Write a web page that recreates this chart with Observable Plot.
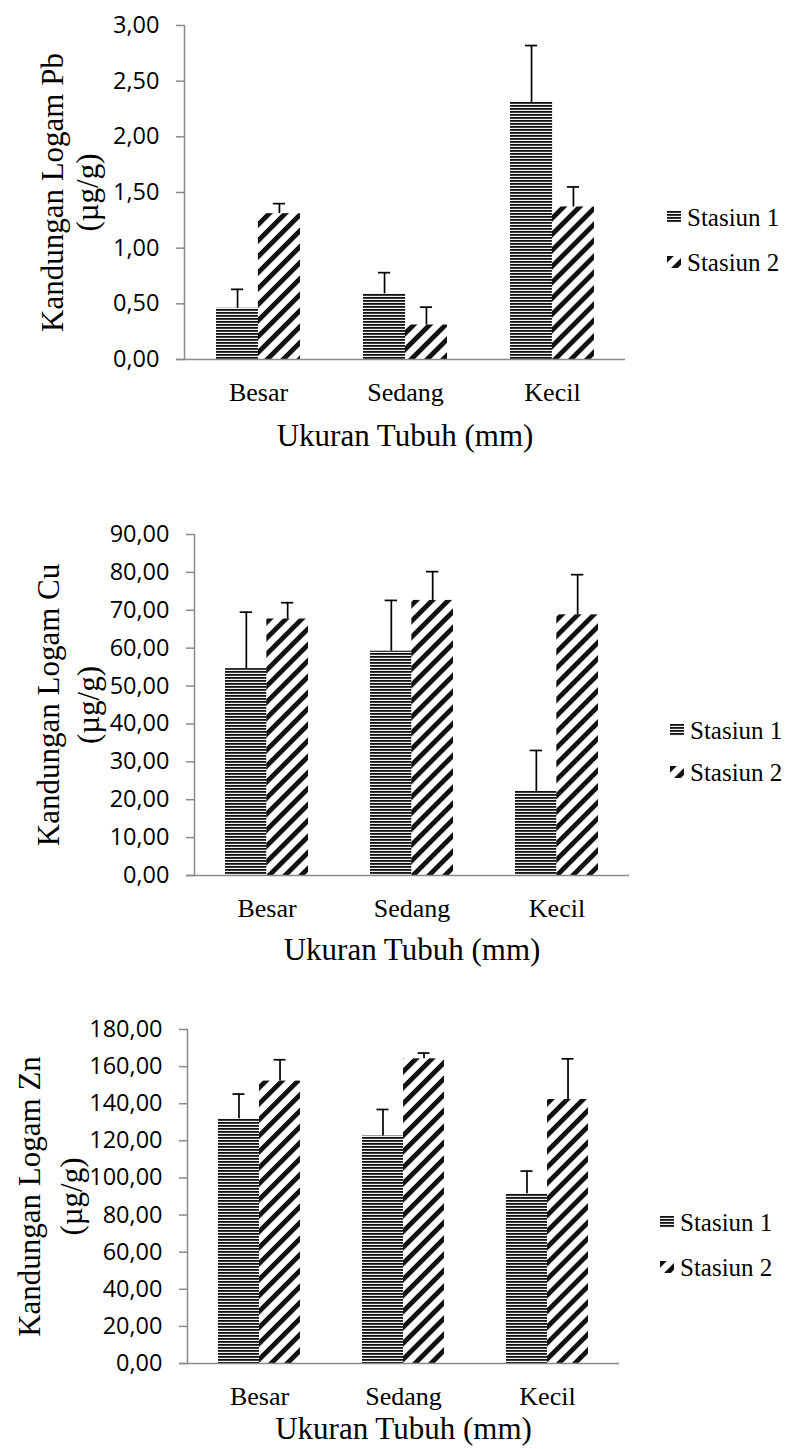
<!DOCTYPE html>
<html>
<head>
<meta charset="utf-8">
<script src="https://cdn.jsdelivr.net/npm/d3@7"></script>
<script src="https://cdn.jsdelivr.net/npm/@observablehq/plot@0.6"></script>
<style>
  html, body { margin: 0; padding: 0; background: #fff; }
  body { position: relative; width: 789px; height: 1449px; overflow: hidden; }
  .panel { position: absolute; left: 0; }
  .legend { position: absolute; font-family: "Liberation Serif", "Times New Roman", serif; font-size: 25px; color: #000; line-height: 1; white-space: nowrap; }
</style>
</head>
<body>
<svg width="0" height="0" style="position:absolute">
  <defs>
    <pattern id="stripeH" patternUnits="userSpaceOnUse" width="8" height="3">
      <rect width="8" height="3" fill="#f2f2f2"></rect>
      <rect width="8" height="1.8" fill="#111"></rect>
    </pattern>
    <pattern id="stripeD" patternUnits="userSpaceOnUse" width="11.3" height="10" patternTransform="rotate(45)">
      <rect width="11.3" height="10" fill="#fff"></rect>
      <rect width="4.8" height="10" fill="#111"></rect>
    </pattern>
  </defs>
</svg>
<div id="p1" class="panel" style="top:0px"></div>
<div id="p2" class="panel" style="top:470px"></div>
<div id="p3" class="panel" style="top:960px"></div>
<div id="legends"></div>
<script>
// ---- data ----
const categories = ["Besar", "Sedang", "Kecil"];
const seriesNames = ["Stasiun 1", "Stasiun 2"];

const pbStasiun1 = [0.46, 0.59, 2.31];
const pbStasiun1Sd = [0.17, 0.19, 0.51];
const pbStasiun2 = [1.31, 0.31, 1.37];
const pbStasiun2Sd = [0.09, 0.16, 0.18];
const pbTicks = [0, 0.5, 1, 1.5, 2, 2.5, 3];

const cuStasiun1 = [54.6, 59.2, 22.2];
const cuStasiun1Sd = [14.9, 13.4, 10.8];
const cuStasiun2 = [67.7, 72.6, 68.8];
const cuStasiun2Sd = [4.3, 7.6, 10.6];
const cuTicks = [0, 10, 20, 30, 40, 50, 60, 70, 80, 90];

const znStasiun1 = [131.9, 122.6, 91.5];
const znStasiun1Sd = [13.3, 14.3, 12.2];
const znStasiun2 = [152.2, 164.2, 142.3];
const znStasiun2Sd = [11.5, 3.1, 21.9];
const znTicks = [0, 20, 40, 60, 80, 100, 120, 140, 160, 180];

const xTitle = "Ukuran Tubuh (mm)";

// ---- drawing ----
const serif = "'Liberation Serif', 'Times New Roman', serif";
const sans = "'Open Sans', Calibri, sans-serif";
const fmt = d => d.toFixed(2).replace(".", ",");
const PI = 0.43;

function panel(cfg) {
  const rows = categories.map((c, i) => ({
    cat: c, s1: cfg.s1[i], sd1: cfg.sd1[i], s2: cfg.s2[i], sd2: cfg.sd2[i]
  }));
  const plotW = 789 - cfg.ml - cfg.mr;
  const bw = (plotW / 3) * (1 - PI);
  const cap = 6;
  return Plot.plot({
    width: 789,
    height: cfg.h,
    marginTop: cfg.mt,
    marginBottom: cfg.mb,
    marginLeft: cfg.ml,
    marginRight: cfg.mr,
    style: {background: "transparent", overflow: "visible"},
    x: {domain: categories, paddingInner: PI, paddingOuter: PI / 2, label: null},
    y: {domain: [0, cfg.ticks[cfg.ticks.length - 1]], label: null},
    marks: [
      Plot.barY(rows, {x: "cat", y: "s1", fill: "url(#stripeH)", insetRight: bw / 2}),
      Plot.barY(rows, {x: "cat", y: "s2", fill: "url(#stripeD)", insetLeft: bw / 2}),
      Plot.ruleX(rows, {x: "cat", y1: "s1", y2: d => d.s1 + d.sd1, dx: -bw / 4, stroke: "#000", strokeWidth: 1.7}),
      Plot.ruleX(rows, {x: "cat", y1: "s2", y2: d => d.s2 + d.sd2, dx: bw / 4, stroke: "#000", strokeWidth: 1.7}),
      Plot.tickY(rows, {x: "cat", y: d => d.s1 + d.sd1, insetLeft: bw / 4 - cap, insetRight: 3 * bw / 4 - cap, stroke: "#000", strokeWidth: 1.7}),
      Plot.tickY(rows, {x: "cat", y: d => d.s2 + d.sd2, insetLeft: 3 * bw / 4 - cap, insetRight: bw / 4 - cap, stroke: "#000", strokeWidth: 1.7}),
      Plot.frame({anchor: "left", stroke: "#8a8a8a", strokeWidth: 1.5}),
      Plot.ruleY([0], {stroke: "#8a8a8a", strokeWidth: 1.5, insetLeft: -8}),
      Plot.axisY({ticks: cfg.ticks, tickSize: 8, tickPadding: 17, tickFormat: fmt, stroke: "#8a8a8a", strokeWidth: 1.5, fill: "#000", fontSize: 23.5, fontFamily: sans, label: null}),
      Plot.axisX({tickSize: 0, tickPadding: 23, fontSize: 26, fontFamily: serif, fill: "#000", label: null}),
      Plot.text([cfg.yTitle], {frameAnchor: "left", textAnchor: "middle", lineAnchor: "middle", rotate: -90, dx: cfg.ytDx, lineHeight: cfg.ytLh, fontSize: 31, fontFamily: serif, fill: "#000"}),
      Plot.text([xTitle], {frameAnchor: "bottom", textAnchor: "middle", lineAnchor: "middle", dy: cfg.xtDy, fontSize: 31, fontFamily: serif, fill: "#000"})
    ]
  });
}

document.getElementById("p1").append(panel({
  s1: pbStasiun1, sd1: pbStasiun1Sd, s2: pbStasiun2, sd2: pbStasiun2Sd, ticks: pbTicks,
  h: 460, mt: 25, mb: 101, ml: 184, mr: 164,
  yTitle: "Kandungan Logam Pb\n(µg/g)", ytDx: -115, ytLh: 1.13, xtDy: 77
}));
document.getElementById("p2").append(panel({
  s1: cuStasiun1, sd1: cuStasiun1Sd, s2: cuStasiun2, sd2: cuStasiun2Sd, ticks: cuTicks,
  h: 490, mt: 64, mb: 85, ml: 194, mr: 160,
  yTitle: "Kandungan Logam Cu\n(µg/g)", ytDx: -128, ytLh: 1.29, xtDy: 75
}));
document.getElementById("p3").append(panel({
  s1: znStasiun1, sd1: znStasiun1Sd, s2: znStasiun2, sd2: znStasiun2Sd, ticks: znTicks,
  h: 489, mt: 69, mb: 86, ml: 187, mr: 170,
  yTitle: "Kandungan Logam Zn\n(µg/g)", ytDx: -140, ytLh: 1.35, xtDy: 66
}));

// ---- legends ----
const legendPos = [
  {x: 667, ys: [217, 262]},
  {x: 670, ys: [730, 772]},
  {x: 660, ys: [1222, 1267]}
];
const fills = ["url(#stripeH)", "url(#stripeD)"];
const lg = document.getElementById("legends");
legendPos.forEach(p => {
  seriesNames.forEach((name, i) => {
    const item = document.createElement("div");
    item.className = "legend";
    item.style.left = p.x + "px";
    item.style.top = (p.ys[i] - 13) + "px";
    item.style.height = "26px";
    item.style.display = "flex";
    item.style.alignItems = "center";
    item.innerHTML = `<svg width="14" height="12" style="margin-right:6px"><rect width="14" height="12" fill="${fills[i]}"></rect></svg><span>${name}</span>`;
    lg.append(item);
  });
});
</script>
</body>
</html>
